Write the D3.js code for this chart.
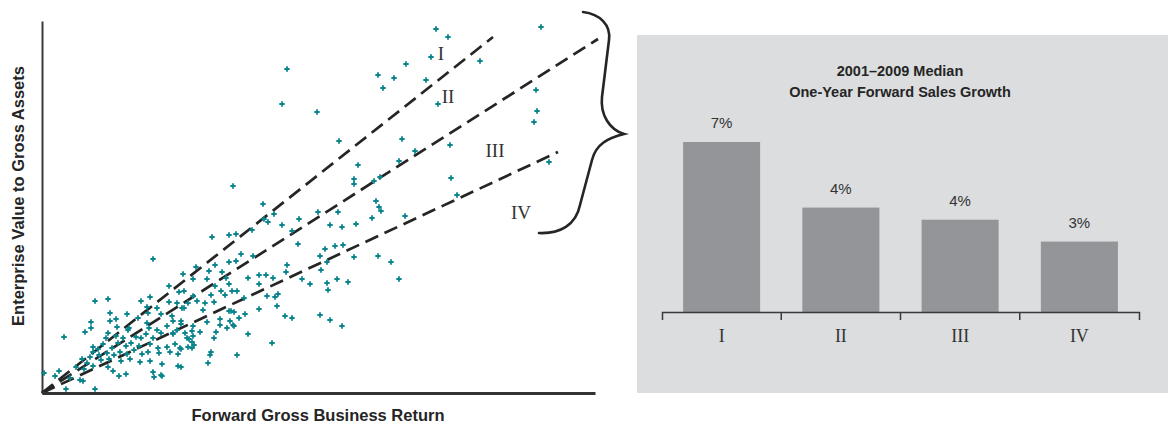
<!DOCTYPE html>
<html>
<head>
<meta charset="utf-8">
<script src="https://cdn.jsdelivr.net/npm/d3@7/dist/d3.min.js"></script>
<style>
  html, body { margin: 0; padding: 0; background: #fff; }
  svg { display: block; }
</style>
</head>
<body>
<svg id="chart" width="1174" height="424"></svg>
<script>
// ---- Scatter: forward gross business return (x) vs. EV / gross assets (y) ----
const firms = [
  [24.5,32.4],[24.0,28.9],[27.5,28.1],[39.4,36.4],[40.6,35.6],[38.9,33.6],[36.4,32.9],[33.6,31.8],
  [35.2,31.5],[34.1,30.5],[38.4,31.3],[43.8,33.2],[49.9,36.6],[39.6,28.9],[49.4,30.3],[49.5,28.2],
  [49.2,27.1],[29.7,25.2],[36.0,25.4],[37.3,24.2],[40.8,24.8],[31.6,22.8],[35.7,23.2],[50.7,23.1],
  [31.2,21.4],[31.2,20.9],[33.8,21.6],[33.2,21.2],[40.9,21.5],[41.5,19.8],[33.4,19.2],[33.7,18.6],
  [33.9,18.2],[33.0,17.5],[36.3,17.7],[30.0,16.6],[31.4,16.9],[30.1,14.8],[31.2,13.6],[33.6,13.7],
  [34.9,13.1],[30.6,11.1],[35.7,11.4],[30.0,6.7],
  [19.1,20.7],[22.1,18.9],[23.2,17.9],[22.2,17.4],[22.6,17.1],[21.0,16.3],[24.0,16.8],[25.7,17.4],
  [25.0,16.2],[27.6,18.1],[29.6,18.1],[28.8,16.8],[25.6,14.9],[17.0,15.6],[18.7,15.8],[19.4,15.9],
  [28.3,14.4],[29.3,14.7],[27.8,13.7],[28.5,13.1],[27.9,12.3],[19.9,13.9],[21.1,13.7],[17.3,12.8],
  [18.7,13.1],[19.4,13.2],[16.7,12.2],[18.0,12.1],[24.5,12.8],[24.4,12.1],[15.4,12.6],[15.1,11.4],
  [16.5,11.4],[18.4,11.5],[20.6,11.5],[21.7,11.8],[22.4,11.8],[23.1,11.5],[26.0,11.4],[29.5,11.4],
  [11.1,13.4],[14.1,11.9],[12.7,10.7],[13.7,10.1],[14.2,10.2],[10.8,9.6],[6.6,9.4],[15.1,9.7],
  [28.5,11.0],[26.8,10.9],[21.7,10.9],[18.7,10.9],[17.3,10.7],[17.9,10.2],[19.0,10.2],[19.5,10.2],
  [28.6,10.3],[18.3,9.8],[16.9,9.8],[23.6,9.9],[23.3,9.6],[22.5,9.7],[15.5,9.2],[14.6,9.0],
  [16.3,9.0],[17.2,9.1],[20.2,9.5],[23.5,8.7],[14.0,8.5],[16.1,8.3],[21.7,8.4],[18.7,8.2],
  [18.9,8.2],[19.2,8.1],[20.3,7.9],[24.3,7.7],[25.0,7.5],[27.8,7.8],[28.8,7.3],[19.7,7.5],
  [17.8,7.4],[18.8,7.2],[13.9,7.2],[16.5,7.1],[19.1,6.8],[19.2,6.7],[17.8,6.8],[18.5,6.5],
  [15.1,6.7],[15.0,6.2],[17.4,6.1],[15.8,6.1],[20.6,5.9],[15.1,5.7],[17.2,5.5],[14.7,5.4],
  [15.0,5.1],[23.0,5.0],[15.2,4.8],[15.0,4.5],[13.9,4.4],[16.9,4.1],[16.8,3.8],[19.5,3.8],
  [16.6,3.0],[13.9,2.6],
  [5.3,9.2],[9.9,9.2],[11.5,8.5],[12.7,9.1],[13.5,9.0],[14.2,8.5],[10.5,8.6],[6.8,8.0],
  [10.6,8.0],[11.9,7.9],[13.0,7.7],[4.9,7.1],[7.4,7.4],[8.5,7.9],[9.6,7.5],[6.8,7.2],
  [10.5,7.0],[13.1,7.2],[13.9,6.9],[4.9,6.5],[4.3,6.1],[6.6,6.0],[7.5,6.6],[8.6,6.3],
  [8.7,6.5],[10.7,6.5],[11.5,6.3],[12.5,6.7],[11.9,6.0],[13.1,6.0],[13.5,6.3],[14.3,6.0],
  [2.2,5.6],[6.4,5.5],[7.4,5.7],[8.1,5.5],[9.4,5.6],[9.9,5.5],[10.4,5.9],[11.1,5.5],
  [13.1,5.9],[14.5,5.5],[5.1,4.6],[6.1,4.9],[7.0,4.5],[7.6,5.0],[8.4,4.7],[8.9,5.0],
  [9.7,4.7],[10.8,4.9],[11.6,4.5],[12.5,4.6],[13.3,4.9],[13.8,4.5],[14.6,4.6],[5.1,4.1],
  [5.6,4.4],[5.7,3.8],[6.5,4.0],[7.2,3.8],[7.8,4.1],[8.5,3.9],[9.2,4.3],[10.0,3.9],
  [10.6,4.1],[11.7,4.0],[12.8,4.1],[13.6,3.9],[4.0,3.4],[4.5,3.0],[4.8,3.6],[5.9,3.3],
  [6.7,3.4],[7.9,3.2],[8.8,3.4],[9.8,3.1],[10.8,3.2],[12.0,2.9],[13.6,2.7],[3.4,2.6],
  [4.2,2.4],[5.1,2.7],[6.6,2.6],[7.1,2.2],[8.4,1.9],[7.7,1.7],[11.1,2.1],[11.2,1.6],
  [11.9,1.8],[12.0,1.7],[0.2,2.0],[1.3,1.7],[1.7,2.2],[2.8,1.5],[3.8,1.3],[4.1,1.2],
  [2.4,0.4],[5.3,0.4]
];

// Dashed boundary lines run from the origin to these end points
const boundaryEndX = [45.1, 55.6, 51.6];
const boundaryEndY = [35.6, 35.4, 24.1];

// Group labels placed between the boundary lines
const groupNames = ["I", "II", "III", "IV"];
const groupLabelX = [39.9, 40.6, 45.3, 47.9];
const groupLabelY = [34.0, 29.7, 24.3, 18.1];

// Curly brace spanning the groups (path nodes in data units)
const braceStart = [54.1, 38.1];
const braceSegments = [
  ["C", 55.8, 37.9, 56.9, 36.8, 56.7, 35.3],
  ["L", 56.0, 29.6],
  ["C", 55.8, 27.8, 56.8, 26.3, 58.2, 25.9],
  ["C", 56.6, 25.5, 55.4, 24.9, 55.0, 23.3],
  ["L", 53.8, 18.8],
  ["C", 53.4, 16.8, 51.8, 15.9, 49.7, 16.0]
];

// ---- Bar panel: median one-year forward sales growth by group ----
const barGroups = ["I", "II", "III", "IV"];
const salesGrowth = [7.0, 4.3, 3.8, 2.9];
const panelTitle = ["2001\u20132009 Median", "One-Year Forward Sales Growth"];

const svg = d3.select("#chart");
const sans = "'Liberation Sans', Arial, sans-serif";
const serif = "'Liberation Serif', 'Times New Roman', serif";
const teal = "#0a858d";
const ink = "#252525";

// ===== Scatter =====
const x = d3.scaleLinear().domain([0, 55.3]).range([42, 595]);
const y = d3.scaleLinear().domain([0, 37.2]).range([393, 21]);

const scatter = svg.append("g");

// Y axis (line only)
scatter.append("g")
  .attr("transform", `translate(${x(0)},0)`)
  .call(d3.axisLeft(y).tickValues([]).tickSizeOuter(0))
  .call(g => g.select(".domain").attr("stroke", "#3a3a3a").attr("stroke-width", 2));

// Boundary lines
const boundaries = boundaryEndX.map((ex, i) => ({ ex, ey: boundaryEndY[i] }));
scatter.append("g").selectAll("line")
  .data(boundaries)
  .join("line")
  .attr("x1", x(0)).attr("y1", y(0))
  .attr("x2", d => x(d.ex)).attr("y2", d => y(d.ey))
  .attr("stroke", ink)
  .attr("stroke-width", 2.7)
  .attr("stroke-dasharray", "14,7");

// Points
scatter.append("g").selectAll("path")
  .data(firms)
  .join("path")
  .attr("transform", d => `translate(${x(d[0])},${y(d[1])})`)
  .attr("d", d3.symbol(d3.symbolCross, 16))
  .attr("fill", teal);

// X axis (line only)
scatter.append("g")
  .attr("transform", `translate(0,${y(0)})`)
  .call(d3.axisBottom(x).tickValues([]).tickSizeOuter(0))
  .call(g => g.select(".domain").attr("stroke", "#333").attr("stroke-width", 3));

// Group labels
scatter.append("g").selectAll("text")
  .data(groupNames)
  .join("text")
  .attr("x", (d, i) => x(groupLabelX[i]))
  .attr("y", (d, i) => y(groupLabelY[i]))
  .attr("text-anchor", "middle")
  .attr("dominant-baseline", "central")
  .attr("font-family", serif)
  .attr("font-size", 19)
  .attr("fill", "#333")
  .text(d => d);

// Brace
const bp = d3.path();
bp.moveTo(x(braceStart[0]), y(braceStart[1]));
braceSegments.forEach(s => {
  if (s[0] === "L") bp.lineTo(x(s[1]), y(s[2]));
  else bp.bezierCurveTo(x(s[1]), y(s[2]), x(s[3]), y(s[4]), x(s[5]), y(s[6]));
});
scatter.append("path")
  .attr("d", bp.toString())
  .attr("fill", "none")
  .attr("stroke", ink)
  .attr("stroke-width", 2.6)
  .attr("stroke-linecap", "round");

// Axis titles
scatter.append("text")
  .attr("transform", `translate(24,${(y(0) + y(37.2)) / 2 - 11}) rotate(-90)`)
  .attr("text-anchor", "middle")
  .attr("font-family", sans)
  .attr("font-weight", "bold")
  .attr("font-size", 16.5)
  .attr("fill", ink)
  .text("Enterprise Value to Gross Assets");

scatter.append("text")
  .attr("x", 318)
  .attr("y", 421)
  .attr("text-anchor", "middle")
  .attr("font-family", sans)
  .attr("font-weight", "bold")
  .attr("font-size", 16.5)
  .attr("fill", ink)
  .text("Forward Gross Business Return");

// ===== Bar panel =====
const panel = svg.append("g");
panel.append("rect")
  .attr("x", 637).attr("y", 35)
  .attr("width", 531).attr("height", 358)
  .attr("fill", "#dcdddf");

const band = d3.scaleBand().domain(barGroups).range([662, 1139]);
const yb = d3.scaleLinear().domain([0, 7]).range([312, 142]);
const barW = band.bandwidth() * 0.646;

panel.append("g").selectAll("text")
  .data(panelTitle)
  .join("text")
  .attr("x", 900)
  .attr("y", (d, i) => 76 + i * 21)
  .attr("text-anchor", "middle")
  .attr("font-family", sans)
  .attr("font-weight", "bold")
  .attr("font-size", 14.5)
  .attr("fill", ink)
  .text(d => d);

const bars = barGroups.map((g, i) => ({ g, v: salesGrowth[i] }));

panel.append("g").selectAll("rect")
  .data(bars)
  .join("rect")
  .attr("x", d => band(d.g) + (band.bandwidth() - barW) / 2)
  .attr("y", d => yb(d.v))
  .attr("width", barW)
  .attr("height", d => yb(0) - yb(d.v))
  .attr("fill", "#939598");

panel.append("g").selectAll("text")
  .data(bars)
  .join("text")
  .attr("x", d => band(d.g) + band.bandwidth() / 2)
  .attr("y", d => yb(d.v) - 14)
  .attr("text-anchor", "middle")
  .attr("font-family", sans)
  .attr("font-size", 15)
  .attr("fill", "#333")
  .text(d => `${Math.round(d.v)}%`);

// Category axis with boundary ticks
const bAxis = panel.append("g")
  .attr("transform", `translate(0,${yb(0)})`)
  .call(d3.axisBottom(band).tickSizeInner(0).tickSizeOuter(8).tickPadding(17));
bAxis.select(".domain").attr("stroke", "#3a3a3a").attr("stroke-width", 1.5);
bAxis.selectAll("text")
  .attr("font-family", serif)
  .attr("font-size", 18)
  .attr("fill", "#333");
bAxis.selectAll(".sep")
  .data(barGroups.slice(1))
  .join("line")
  .attr("class", "sep")
  .attr("x1", d => band(d)).attr("x2", d => band(d))
  .attr("y1", 0).attr("y2", 8)
  .attr("stroke", "#3a3a3a").attr("stroke-width", 1.5);
</script>
</body>
</html>
